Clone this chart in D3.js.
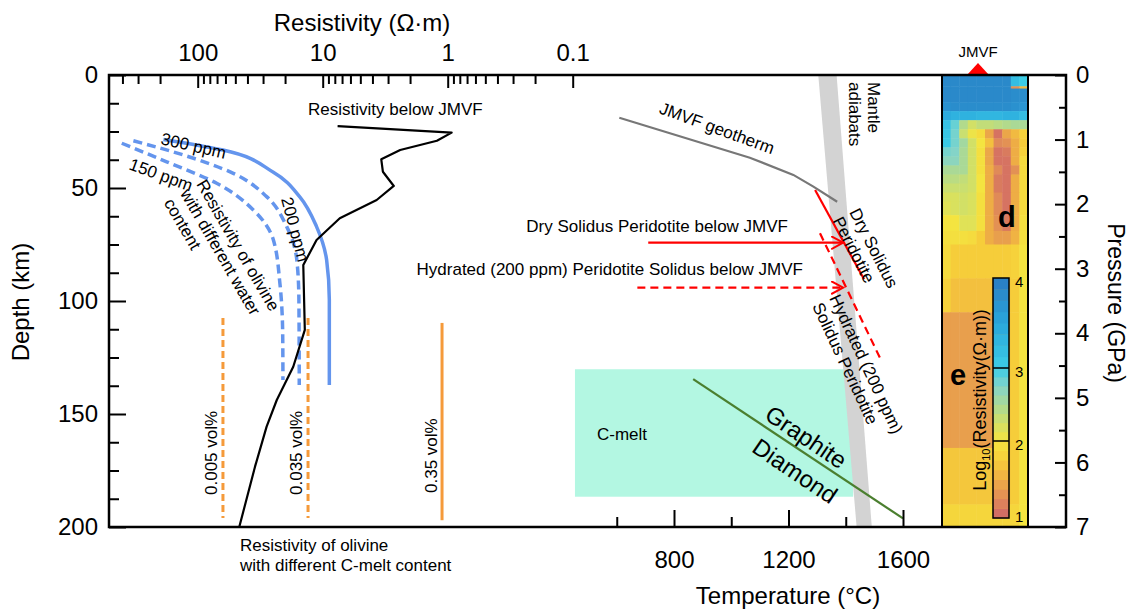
<!DOCTYPE html>
<html>
<head>
<meta charset="utf-8">
<script src="https://cdn.jsdelivr.net/npm/d3@7"></script>
<style>
body { margin: 0; background: #fff; }
text { font-family: "Liberation Sans", Arial, sans-serif; fill: #000; }
</style>
</head>
<body>
<svg id="chart" width="1131" height="612"></svg>
<script>
// ---------- data ----------
// axes
var depthTicks = [0, 50, 100, 150, 200];
var depthMinor = [12.5, 25, 37.5, 62.5, 75, 87.5, 112.5, 125, 137.5, 162.5, 175, 187.5];
var resTicks = [100, 10, 1, 0.1];
var resMinor = [400, 300, 200, 90, 80, 70, 60, 50, 40, 30, 20, 9, 8, 7, 6, 5, 4, 3, 2,
                0.9, 0.8, 0.7, 0.6, 0.5, 0.4, 0.3, 0.2];
var tempTicks = [800, 1200, 1600];
var tempMinor = [600, 1000, 1400];
var pressTicks = [0, 1, 2, 3, 4, 5, 6, 7];
var pressMinor = [0.5, 1.5, 2.5, 3.5, 4.5, 5.5, 6.5];

// resistivity below JMVF (depth km / ohm-m)
var jmvfDepth = [22.6, 25.5, 29.1, 33.2, 37.3, 42.8, 49.1, 55.3, 63.4, 73, 84.1, 112.8, 129.1, 143.8, 155.6, 173.3, 200];
var jmvfRes = [7.6, 0.93, 1.22, 2.4, 3.4, 3.3, 2.7, 3.7, 7.3, 11.2, 14.3, 13.9, 17.2, 23.3, 28.1, 34.8, 46.5];

// olivine with different water content
var ol300Depth = [28.5, 33.2, 42.9, 54, 67.1, 81.9, 99.6, 137.2];
var ol300Res = [188, 62.8, 25, 15.2, 11.2, 9.3, 8.85, 8.85];
var ol200Depth = [29.1, 35.4, 43.5, 53.8, 67.1, 81.9, 99.6, 137.2];
var ol200Res = [327, 130, 51.9, 28.1, 19.4, 16.1, 15.5, 15.4];
var ol150Depth = [30.2, 38.4, 47.9, 59.7, 73, 92.2, 114.3, 135];
var ol150Res = [405, 177, 70.5, 35.9, 24.8, 22, 20.9, 20.8];

// olivine with C-melt
var meltLabels = ["0.005 vol%", "0.035 vol%", "0.35 vol%"];
var meltRes = [62.8, 13.1, 1.11];
var meltTop = [107.5, 107.5, 109.7];
var meltBottom = [196, 196, 197];
var meltDashed = [true, true, false];

// temperature side
var geoT = [609, 1065, 1217, 1287, 1370];
var geoDepth = [18.9, 36.6, 44.2, 49.4, 56.1];
var adiabatTopT = [1304, 1368];
var adiabatBottomT = [1438, 1491];
var drySolT = [1293, 1464];
var drySolDepth = [50.9, 90.4];
var hydSolT = [1310, 1520];
var hydSolDepth = [70, 125.3];
var dryArrowT = [710, 1391];
var dryArrowDepth = 74.2;
var hydArrowT = [672, 1391];
var hydArrowDepth = 94.1;
var cmeltT = [454, 1426];
var cmeltDepth = [130.2, 186.6];
var graphiteT = [867, 1600];
var graphiteDepth = [134.6, 196.2];

// resistivity section below JMVF, log10(ohm-m)
var hmDepth = [0, 5, 6, 12, 16, 20, 24, 28, 32, 36, 40, 44, 48, 52, 56, 62, 69, 75, 90, 105, 165, 190, 200];
var hmLog = [
  [3.85, 3.85, 3.85, 3.85, 3.85, 3.85, 3.85, 3.85, 3.2, 3.0],
  [3.85, 3.85, 3.85, 3.85, 3.85, 3.85, 3.85, 3.85, 1.3, 1.6],
  [3.85, 3.85, 3.85, 3.85, 3.85, 3.85, 3.85, 3.85, 3.8, 3.8],
  [3.75, 3.8, 3.8, 3.8, 3.8, 3.8, 3.8, 3.8, 3.75, 3.7],
  [3.45, 3.35, 3.35, 3.35, 3.3, 3.3, 3.3, 3.35, 3.35, 3.2],
  [3.15, 2.85, 2.45, 2.25, 2.35, 2.35, 2.4, 2.45, 2.5, 2.5],
  [3.1, 2.8, 2.3, 2.05, 1.9, 1.45, 1.1, 1.45, 1.6, 1.8],
  [3.05, 2.8, 2.55, 2.25, 2.0, 1.65, 1.25, 1.3, 1.5, 1.75],
  [2.8, 2.75, 2.5, 2.25, 1.95, 1.45, 1.1, 1.15, 1.5, 1.8],
  [2.7, 2.7, 2.5, 2.25, 1.95, 1.45, 1.1, 1.1, 1.5, 1.9],
  [2.5, 2.5, 2.5, 2.25, 1.95, 1.5, 1.25, 1.1, 1.3, 1.9],
  [2.4, 2.4, 2.35, 2.25, 2.0, 1.5, 1.15, 1.1, 1.5, 1.9],
  [2.3, 2.3, 2.3, 2.25, 2.0, 1.5, 1.15, 1.1, 1.5, 1.9],
  [2.2, 2.2, 2.25, 2.2, 1.95, 1.5, 1.25, 1.1, 1.5, 1.9],
  [2.15, 2.2, 2.25, 2.2, 1.95, 1.5, 1.25, 1.1, 1.5, 1.9],
  [2.0, 2.0, 2.15, 2.15, 1.95, 1.5, 1.3, 1.15, 1.5, 1.95],
  [1.95, 1.95, 1.95, 1.9, 1.75, 1.5, 1.4, 1.4, 1.55, 1.95],
  [1.9, 1.75, 1.75, 1.75, 1.75, 1.75, 1.75, 1.75, 1.8, 2.0],
  [1.8, 1.65, 1.65, 1.65, 1.65, 1.65, 1.65, 1.7, 1.75, 2.0],
  [1.4, 1.4, 1.4, 1.4, 1.4, 1.4, 1.7, 1.7, 1.75, 2.0],
  [1.7, 1.7, 1.7, 1.7, 1.7, 1.7, 1.7, 1.7, 1.75, 2.0],
  [1.85, 1.85, 1.85, 1.85, 1.85, 1.85, 1.85, 1.85, 1.85, 2.0]
];
var cbStops = [1, 1.25, 1.5, 1.75, 2, 2.25, 2.5, 2.75, 3, 3.5, 4];
var cbColors = ["#cf6468", "#e08a58", "#eead45", "#f6cd3a", "#f4e440", "#d2e066", "#aad996",
                "#84d4c8", "#3ccde6", "#2aa6dc", "#2a7cc2"];
var cbTicks = [1, 2, 3, 4];

// ---------- scales ----------
var svg = d3.select("#chart");
var y = d3.scaleLinear().domain([0, 200]).range([75, 527]);
var yP = d3.scaleLinear().domain([0, 7]).range([75, 527]);
var xR = d3.scaleLog().domain([100, 0.1]).range([197.7, 572.7]);
var xT = d3.scaleLinear().domain([800, 1600]).range([674, 903]);
var hx = d3.scaleBand().domain(d3.range(10)).range([942, 1028]);
var color = d3.scaleLinear().domain(cbStops).range(cbColors);
var cbY = d3.scaleLinear().domain([1, 2, 3, 4]).range([518, 441, 368, 278]);

var defs = svg.append("defs");
defs.append("marker").attr("id", "arr")
    .attr("viewBox", "0 0 14 14").attr("refX", 12).attr("refY", 7)
    .attr("markerWidth", 14).attr("markerHeight", 14)
    .attr("markerUnits", "userSpaceOnUse").attr("orient", "auto")
  .append("path").attr("d", "M0,0.5 L12,7 L0,13.5")
    .attr("fill", "none").attr("stroke", "red").attr("stroke-width", 2);

// ---------- temperature panel background ----------
svg.append("rect")
    .attr("x", xT(cmeltT[0])).attr("y", y(cmeltDepth[0]))
    .attr("width", xT(cmeltT[1]) - xT(cmeltT[0]))
    .attr("height", y(cmeltDepth[1]) - y(cmeltDepth[0]))
    .attr("fill", "#b3f7e2");

var band = [[adiabatTopT[0], 0], [adiabatTopT[1], 0], [adiabatBottomT[1], 200], [adiabatBottomT[0], 200]];
svg.append("path")
    .attr("d", "M" + band.map(function(d) { return xT(d[0]) + "," + y(d[1]); }).join("L") + "Z")
    .attr("fill", "#d3d3d3");

// ---------- resistivity section ----------
var hm = svg.append("g");
hmLog.forEach(function(row, r) {
    row.forEach(function(v, c) {
        hm.append("rect")
            .attr("x", hx(c)).attr("y", y(hmDepth[r]))
            .attr("width", hx.bandwidth() + (c < 9 ? 0.5 : 0))
            .attr("height", y(hmDepth[r + 1]) - y(hmDepth[r]) + (r < hmLog.length - 1 ? 0.5 : 0))
            .attr("fill", color(v));
    });
});
svg.append("rect").attr("x", 942).attr("y", 75).attr("width", 86).attr("height", 452)
    .attr("fill", "none").attr("stroke", "#000").attr("stroke-width", 2);

// colour bar
var cbSteps = d3.range(1, 4, 0.125);
svg.append("g").selectAll("rect").data(cbSteps).enter().append("rect")
    .attr("x", 993).attr("width", 16)
    .attr("y", function(d) { return cbY(d + 0.125); })
    .attr("height", function(d) { return cbY(d) - cbY(d + 0.125) + 0.4; })
    .attr("fill", function(d) { return color(d + 0.0625); });
svg.append("rect").attr("x", 993).attr("y", cbY(4)).attr("width", 16).attr("height", cbY(1) - cbY(4))
    .attr("fill", "none").attr("stroke", "#000").attr("stroke-width", 1.5);
[2, 3].forEach(function(v) {
    svg.append("line").attr("x1", 993).attr("x2", 1009).attr("y1", cbY(v)).attr("y2", cbY(v))
        .attr("stroke", "#000").attr("stroke-width", 1.5);
});
svg.append("g").selectAll("text").data(cbTicks).enter().append("text")
    .attr("x", 1015).attr("y", function(d) { return cbY(d) + (d == 1 ? -1 : 4); })
    .attr("dy", "0.35em").attr("font-size", 15).text(function(d) { return d; });
var cbl = svg.append("text").attr("transform", "translate(986,400) rotate(-90)")
    .attr("text-anchor", "middle").attr("font-size", 18);
cbl.append("tspan").text("Log");
cbl.append("tspan").attr("font-size", 11).attr("dy", 4).text("10");
cbl.append("tspan").attr("dy", -4).text("(Resistivity(Ω·m))");
svg.append("text").attr("x", 998).attr("y", 227).attr("font-size", 29).attr("font-weight", "bold").text("d");
svg.append("text").attr("x", 950).attr("y", 385).attr("font-size", 29).attr("font-weight", "bold").text("e");

// JMVF marker
svg.append("path").attr("d", "M967,75 L978,63 L989,75 Z").attr("fill", "red");
svg.append("text").attr("x", 978).attr("y", 57).attr("text-anchor", "middle").attr("font-size", 15).text("JMVF");

// ---------- resistivity curves ----------
function zip(a, b) { return a.map(function(v, i) { return [v, b[i]]; }); }
var resLine = d3.line().x(function(d) { return xR(d[1]); }).y(function(d) { return y(d[0]); });
var resCurve = d3.line().curve(d3.curveMonotoneY).x(function(d) { return xR(d[1]); }).y(function(d) { return y(d[0]); });

// C-melt lines
meltRes.forEach(function(r, i) {
    svg.append("line")
        .attr("x1", xR(r)).attr("x2", xR(r)).attr("y1", y(meltTop[i])).attr("y2", y(meltBottom[i]))
        .attr("stroke", "#f59a3a").attr("stroke-width", 3)
        .attr("stroke-dasharray", meltDashed[i] ? "7,4" : null);
});
var meltLabX = [217, 302, 437];
meltLabels.forEach(function(t, i) {
    svg.append("text").attr("transform", "translate(" + meltLabX[i] + "," + (i == 2 ? 493 : 495) + ") rotate(-90)")
        .attr("font-size", 17).text(t);
});

// olivine water curves
svg.append("path").datum(zip(ol150Depth, ol150Res)).attr("d", resCurve)
    .attr("fill", "none").attr("stroke", "#6495ed").attr("stroke-width", 3.5).attr("stroke-dasharray", "9,5");
svg.append("path").datum(zip(ol200Depth, ol200Res)).attr("d", resCurve)
    .attr("fill", "none").attr("stroke", "#6495ed").attr("stroke-width", 3.5).attr("stroke-dasharray", "9,5");
svg.append("path").datum(zip(ol300Depth, ol300Res)).attr("d", resCurve)
    .attr("fill", "none").attr("stroke", "#6495ed").attr("stroke-width", 3.5);

// resistivity below JMVF
svg.append("path").datum(zip(jmvfDepth, jmvfRes)).attr("d", resLine)
    .attr("fill", "none").attr("stroke", "#000").attr("stroke-width", 2.2).attr("stroke-linejoin", "round");

svg.append("text").attr("x", 308).attr("y", 115).attr("font-size", 17).text("Resistivity below JMVF");
svg.append("text").attr("transform", "translate(160,144) rotate(13)").attr("font-size", 17).text("300 ppm");
svg.append("text").attr("transform", "translate(128,169) rotate(20)").attr("font-size", 17).text("150 ppm");
svg.append("text").attr("transform", "translate(281,199) rotate(75)").attr("font-size", 17).text("200 ppm");
var olt = svg.append("text").attr("transform", "translate(196,184) rotate(60)").attr("font-size", 17);
["Resistivity of olivine", "with different water", "content"].forEach(function(t, i) {
    olt.append("tspan").attr("x", 0).attr("dy", i ? "1.1em" : 0).text(t);
});
var cmt = svg.append("text").attr("font-size", 17);
cmt.append("tspan").attr("x", 240).attr("y", 551).text("Resistivity of olivine");
cmt.append("tspan").attr("x", 240).attr("y", 571).text("with different C-melt content");

// ---------- temperature curves ----------
var tLine = d3.line().x(function(d) { return xT(d[1]); }).y(function(d) { return y(d[0]); });
svg.append("path").datum(zip(geoDepth, geoT)).attr("d", tLine)
    .attr("fill", "none").attr("stroke", "#777").attr("stroke-width", 2.2);
svg.append("path").datum(zip(drySolDepth, drySolT)).attr("d", tLine)
    .attr("fill", "none").attr("stroke", "red").attr("stroke-width", 2.2);
svg.append("path").datum(zip(hydSolDepth, hydSolT)).attr("d", tLine)
    .attr("fill", "none").attr("stroke", "red").attr("stroke-width", 2.2).attr("stroke-dasharray", "8,5");
svg.append("path").datum(zip(graphiteDepth, graphiteT)).attr("d", tLine)
    .attr("fill", "none").attr("stroke", "#4b7f2f").attr("stroke-width", 2.2);

svg.append("line").attr("x1", xT(dryArrowT[0])).attr("x2", xT(dryArrowT[1]))
    .attr("y1", y(dryArrowDepth)).attr("y2", y(dryArrowDepth))
    .attr("stroke", "red").attr("stroke-width", 2.2).attr("marker-end", "url(#arr)");
svg.append("line").attr("x1", xT(hydArrowT[0])).attr("x2", xT(hydArrowT[1]))
    .attr("y1", y(hydArrowDepth)).attr("y2", y(hydArrowDepth))
    .attr("stroke", "red").attr("stroke-width", 2.2).attr("stroke-dasharray", "8,5").attr("marker-end", "url(#arr)");

svg.append("text").attr("x", 788).attr("y", 232).attr("text-anchor", "end").attr("font-size", 17)
    .text("Dry Solidus Peridotite below JMVF");
svg.append("text").attr("x", 803).attr("y", 275).attr("text-anchor", "end").attr("font-size", 17)
    .text("Hydrated (200 ppm) Peridotite Solidus below JMVF");
svg.append("text").attr("transform", "translate(717,128) rotate(20)").attr("text-anchor", "middle")
    .attr("dy", "0.35em").attr("font-size", 17).text("JMVF geotherm");
function multi(tr, lines) {
    var t = svg.append("text").attr("transform", tr).attr("font-size", 17);
    lines.forEach(function(s, i) { t.append("tspan").attr("x", 0).attr("dy", i ? "1.1em" : 0).text(s); });
}
multi("translate(868,82) rotate(90)", ["Mantle", "adiabats"]);
multi("translate(849,212) rotate(63)", ["Dry Solidus", "Peridotite"]);
multi("translate(829,298) rotate(65)", ["Hydrated (200 ppm)", "Solidus Peridotite"]);
svg.append("text").attr("x", 597).attr("y", 440).attr("font-size", 17).text("C-melt");
svg.append("text").attr("transform", "translate(806,437) rotate(34)").attr("text-anchor", "middle")
    .attr("dy", "0.35em").attr("font-size", 24).text("Graphite");
svg.append("text").attr("transform", "translate(795,471) rotate(34)").attr("text-anchor", "middle")
    .attr("dy", "0.35em").attr("font-size", 24).text("Diamond");

// ---------- frame and axes ----------
function styleAxis(g, size) {
    g.select(".domain").remove();
    g.selectAll("line").attr("stroke", "#000").attr("stroke-width", 2);
    g.selectAll("text").attr("font-size", size).attr("font-family", '"Liberation Sans", Arial, sans-serif');
}
svg.append("g").attr("transform", "translate(109,0)")
    .call(d3.axisLeft(y).tickValues(depthTicks).tickSize(-17).tickPadding(11))
    .call(styleAxis, 24);
svg.append("g").attr("transform", "translate(109,0)")
    .call(d3.axisLeft(y).tickValues(depthMinor).tickSize(-10).tickFormat(""))
    .call(styleAxis, 24);
svg.append("g").attr("transform", "translate(0,75)")
    .call(d3.axisTop(xR).tickValues(resTicks).tickSize(-13).tickPadding(14).tickFormat(d3.format("~g")))
    .call(styleAxis, 24);
svg.append("g").attr("transform", "translate(0,75)")
    .call(d3.axisTop(xR).tickValues(resMinor).tickSize(-9).tickFormat(""))
    .call(styleAxis, 24);
svg.append("g").attr("transform", "translate(0,527)")
    .call(d3.axisBottom(xT).tickValues(tempTicks).tickSize(-17).tickPadding(24).tickFormat(d3.format("d")))
    .call(styleAxis, 24);
svg.append("g").attr("transform", "translate(0,527)")
    .call(d3.axisBottom(xT).tickValues(tempMinor).tickSize(-10).tickFormat(""))
    .call(styleAxis, 24);
svg.append("g").attr("transform", "translate(1066,0)")
    .call(d3.axisRight(yP).tickValues(pressTicks).tickSize(-11).tickPadding(10).tickFormat(d3.format("d")))
    .call(styleAxis, 24);
svg.append("g").attr("transform", "translate(1066,0)")
    .call(d3.axisRight(yP).tickValues(pressMinor).tickSize(-7).tickFormat(""))
    .call(styleAxis, 24);

svg.append("path").attr("d", "M109,75 H1066 V527 H109 Z")
    .attr("fill", "none").attr("stroke", "#000").attr("stroke-width", 2.5);

svg.append("text").attr("x", 362).attr("y", 31).attr("text-anchor", "middle").attr("font-size", 24)
    .text("Resistivity (Ω·m)");
svg.append("text").attr("x", 788).attr("y", 604).attr("text-anchor", "middle").attr("font-size", 24)
    .text("Temperature (°C)");
svg.append("text").attr("transform", "translate(29,302) rotate(-90)").attr("text-anchor", "middle")
    .attr("font-size", 24).text("Depth (km)");
svg.append("text").attr("transform", "translate(1108,303) rotate(90)").attr("text-anchor", "middle")
    .attr("font-size", 23).text("Pressure (GPa)");
</script>
</body>
</html>
